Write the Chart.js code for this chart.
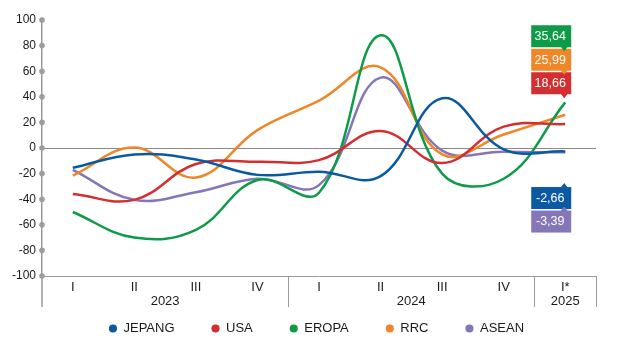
<!DOCTYPE html>
<html><head><meta charset="utf-8">
<script src="https://cdn.jsdelivr.net/npm/chart.js@4"></script>
<style>html,body{margin:0;padding:0;background:#fff}#wrap{width:618px;height:343px;position:relative}</style>
</head><body><div id="wrap"><canvas id="c" width="618" height="343"></canvas></div>
<script>
// ---- data ----
const quarters = ['I','II','III','IV','I','II','III','IV','I*'];
const years = ['2023','2024','2025'];
const yearSpans = [4, 4, 1];
const seriesNames = ['JEPANG','USA','EROPA','RRC','ASEAN'];
const jepang = [-15.5, -5, -9, -21, -18.5, -22, 38.8, -1, -2.66];
const usa    = [-36, -40.5, -12.5, -10.7, -9.5, 13.3, -11.8, 16.7, 18.66];
const eropa  = [-50, -70, -64, -25, -35, 88, -20, -24, 35.64];
const rrc    = [-21.6, 0.3, -23, 14, 37, 63, -5, 10.5, 25.99];
const asean  = [-17, -40.5, -34.5, -24, -29, 55, -2, -3, -3.39];
const yTicks = { min: -100, max: 100, step: 20 };
// ---- styles ----
const colors = ['#0b5aa1','#d42f30','#0d9b48','#ef8627','#8576b8'];
const seriesValues = [jepang, usa, eropa, rrc, asean];

const FONT = "'Liberation Sans',Arial,sans-serif";
Chart.defaults.font.family = FONT;
Chart.defaults.color = '#1a1a1a';

const yearBounds = [0];
yearSpans.forEach(s => yearBounds.push(yearBounds[yearBounds.length-1] + s));
const yearCenters = years.map((_, i) => (yearBounds[i] + yearBounds[i+1]) / 2);

const decor = {
  id: 'decor',
  afterLayout(chart) {
    // let bottom axis labels use the space below their boxes (no clipping)
    ['x', 'x2'].forEach(k => { chart.scales[k].bottom = chart.height; });
    chart.legend.left += 37;
  },
  afterDraw(chart) {
    const ctx = chart.ctx, ca = chart.chartArea;
    const y = chart.scales.y, x2 = chart.scales.x2;
    ctx.save();
    ctx.strokeStyle = '#9a9a9a';
    yearBounds.forEach((b, i) => {
      const px = x2.getPixelForValue(b);
      ctx.lineWidth = i === 0 ? 1.5 : 1;
      ctx.beginPath();
      const xx = i === 0 ? px : Math.round(px) + 0.5;
      ctx.moveTo(xx, ca.bottom);
      ctx.lineTo(xx, ca.bottom + 31);
      ctx.stroke();
    });
    ctx.fillStyle = '#9d9d9d';
    y.ticks.forEach(t => {
      const py = y.getPixelForValue(t.value);
      ctx.beginPath();
      ctx.arc(ca.left, py, 2.8, 0, Math.PI * 2);
      ctx.fill();
    });
    ctx.restore();
  },
  afterDatasetsDraw(chart) {
    const ctx = chart.ctx;
    const y = chart.scales.y, x = chart.scales.x;
    const last = quarters.length - 1;
    const lx = x.getPixelForValue(last);
    const w = 40, h = 22, step = 23.5;
    const items = seriesValues.map((v, i) => ({ v: v[last], c: colors[i] }));
    const top = items.filter(it => it.v >= 0).sort((a, b) => b.v - a.v);
    const bot = items.filter(it => it.v < 0).sort((a, b) => b.v - a.v);
    const topBottom = y.getPixelForValue(42);
    const botTop = y.getPixelForValue(-30.5);
    ctx.save();
    ctx.font = "12.5px " + FONT;
    ctx.textAlign = 'center';
    ctx.textBaseline = 'middle';
    const drawTag = (it, bx, by, dir) => {
      ctx.fillStyle = it.c;
      ctx.fillRect(bx, by, w, h);
      const tx = lx - 1;
      ctx.beginPath();
      if (dir > 0) { ctx.moveTo(tx - 3.5, by + h - 0.5); ctx.lineTo(tx, by + h + 4); ctx.lineTo(tx + 3.5, by + h - 0.5); }
      else { ctx.moveTo(tx - 3.5, by + 0.5); ctx.lineTo(tx, by - 4); ctx.lineTo(tx + 3.5, by + 0.5); }
      ctx.fill();
      ctx.fillStyle = '#ffffff';
      ctx.fillText(it.v.toFixed(2).replace('.', ','), bx + w / 2 - 1, by + h / 2 + 0.5);
    };
    const bx = lx - 34;
    for (let i = top.length - 1; i >= 0; i--) {
      const by = topBottom - h - (top.length - 1 - i) * step;
      drawTag(top[i], bx, by, 1);
    }
    for (let i = 0; i < bot.length; i++) {
      drawTag(bot[i], bx, botTop + i * step, -1);
    }
    ctx.restore();
  }
};

new Chart(document.getElementById('c'), {
  type: 'line',
  data: {
    labels: quarters,
    datasets: seriesNames.map((n, i) => ({
      label: n,
      data: seriesValues[i],
      borderColor: colors[i],
      backgroundColor: colors[i],
      borderWidth: 2.5,
      tension: 0.4,
      pointRadius: 0,
      fill: false
    }))
  },
  options: {
    responsive: false,
    animation: false,
    devicePixelRatio: 1,
    layout: { padding: { top: 20, right: 22, bottom: 0, left: 0 } },
    plugins: {
      legend: {
        position: 'bottom',
        maxHeight: 58,
        labels: { usePointStyle: true, pointStyle: 'circle', boxWidth: 8, boxHeight: 4, padding: 37, color: '#1a1a1a', font: { size: 13 } }
      },
      tooltip: { enabled: false }
    },
    scales: {
      x: {
        type: 'category', offset: true,
        grid: { display: false, drawTicks: false },
        border: { display: true, color: '#9a9a9a', width: 1 },
        ticks: { padding: 4, font: { size: 13 }, maxRotation: 0, autoSkip: false, color: '#1a1a1a' },
        afterFit(s) { s.height = 9; }
      },
      x2: {
        type: 'linear', position: 'bottom', min: 0, max: yearBounds[yearBounds.length-1],
        grid: { display: false, drawTicks: false },
        border: { display: false },
        afterBuildTicks(s) { s.ticks = yearCenters.map(v => ({ value: v })); },
        ticks: { callback: (v, i) => years[i], padding: 9, font: { size: 13 }, maxRotation: 0, autoSkip: false, color: '#1a1a1a' },
        afterFit(s) { s.height = 0; }
      },
      y: {
        min: yTicks.min, max: yTicks.max,
        ticks: { stepSize: yTicks.step, padding: 6, font: { size: 12 }, color: '#1a1a1a' },
        grid: { drawTicks: false, color: c => (c.tick && c.tick.value === 0) ? '#8a8a8a' : 'rgba(0,0,0,0)', lineWidth: 1 },
        border: { color: '#9a9a9a', width: 1.5 },
        afterFit(s) { s.width = 42; }
      }
    }
  },
  plugins: [decor]
});
</script></body></html>
